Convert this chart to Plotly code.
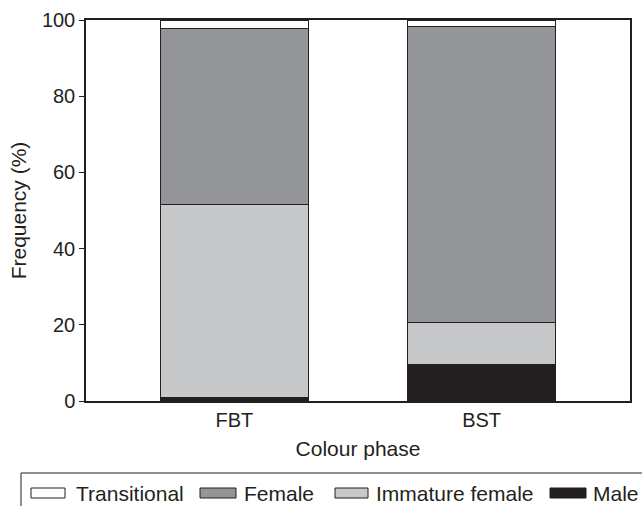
import plotly.graph_objects as go

categories = ["FBT", "BST"]
male = [0.8, 9.6]
immature_female = [50.8, 11.1]
female = [46.3, 77.5]
transitional = [2.1, 1.8]

series = [
    ("Male", male, "#231f20"),
    ("Immature female", immature_female, "#c7c8ca"),
    ("Female", female, "#939598"),
    ("Transitional", transitional, "#ffffff"),
]

# body margin is removed by post_script, so figure pixels == window pixels
FW, FH = 642, 506
L, R, T, B = 86, 630, 20, 401
W, H = R - L, B - T


def px(x):
    return (x - L) / W


def py(y):
    return (B - y) / H


fig = go.Figure()
for name, vals, col in series:
    fig.add_trace(go.Bar(
        x=categories, y=vals, name=name, width=0.6, showlegend=False,
        marker=dict(color=col, line=dict(color="#231f20", width=1)),
    ))

# manual legend (wide swatches as in the reference)
shapes = [dict(type="rect", xref="paper", yref="paper",
               x0=px(21), x1=px(690), y0=py(473), y1=py(540),
               line=dict(color="#231f20", width=1), fillcolor="rgba(0,0,0,0)")]
annotations = []
legend_layout = [  # swatch left, swatch right, text left (window pixels)
    (31, 65, 75), (200, 236, 243), (335, 368, 375), (550, 586, 592),
]
for (name, vals, col), (s0, s1, t0) in zip(series[::-1], legend_layout):
    shapes.append(dict(type="rect", xref="paper", yref="paper",
                       x0=px(s0), x1=px(s1), y0=py(498), y1=py(488),
                       line=dict(color="#231f20", width=1), fillcolor=col))
    annotations.append(dict(text=name, xref="paper", yref="paper",
                            x=px(t0 - 1), y=py(493), xanchor="left", yanchor="middle",
                            showarrow=False, font=dict(size=21, color="#231f20")))

fig.update_layout(
    barmode="stack",
    width=FW, height=FH,
    margin=dict(l=L, r=FW - R, t=T, b=FH - B, autoexpand=False),
    plot_bgcolor="white", paper_bgcolor="white",
    font=dict(family="Liberation Sans, Arial, sans-serif", size=21, color="#231f20"),
    xaxis=dict(
        range=[-0.6, 1.6], showline=True, linecolor="#231f20", linewidth=1.5,
        mirror=True, ticks="", tickfont=dict(size=20), automargin=False,
        title=dict(text="Colour phase", font=dict(size=21), standoff=12),
    ),
    yaxis=dict(
        range=[0, 100], tickvals=[0, 20, 40, 60, 80, 100], showline=True,
        linecolor="#231f20", linewidth=1.5, mirror=True, ticks="outside",
        ticklen=5, tickcolor="#231f20", showgrid=False, zeroline=False,
        tickfont=dict(size=20), automargin=False,
        title=dict(text="Frequency (%)", font=dict(size=21), standoff=10),
    ),
    shapes=shapes,
    annotations=annotations,
)

fig.write_html(
    "out.html",
    config={"displayModeBar": False},
    post_script="document.body.style.margin='0';document.body.style.overflow='hidden';",
)
